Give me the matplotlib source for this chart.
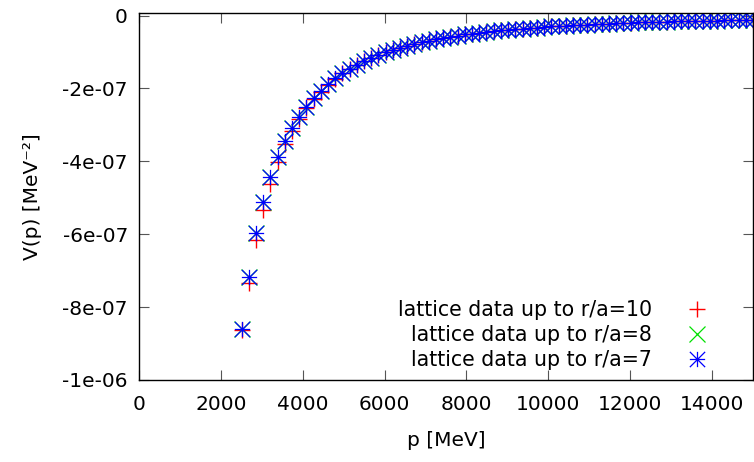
import numpy as np
import matplotlib
matplotlib.use('Agg')
import matplotlib.pyplot as plt
from matplotlib.path import Path

# momenta [MeV]
p = [2505, 2681, 2857, 3033, 3209, 3385, 3561, 3737, 3913, 4089,
     4265, 4441, 4617, 4793, 4969, 5145, 5321, 5497, 5673, 5849,
     6025, 6201, 6377, 6553, 6729, 6905, 7081, 7257, 7433, 7609,
     7785, 7961, 8137, 8313, 8489, 8665, 8841, 9017, 9193, 9369,
     9545, 9721, 9897, 10073, 10249, 10425, 10601, 10777, 10953, 11129,
     11305, 11481, 11657, 11833, 12009, 12185, 12361, 12537, 12713, 12889,
     13065, 13241, 13417, 13593, 13769, 13945, 14121, 14297, 14473, 14649,
     14825, 15001]

# V(p) in units of -1e-7 MeV^-2
v_r10 = [8.63, 7.35, 6.16, 5.34, 4.62, 4.03, 3.53, 3.16, 2.83, 2.54,
         2.30, 2.09, 1.90, 1.74, 1.59, 1.47, 1.36, 1.26, 1.17, 1.08,
         1.01, 0.94, 0.88, 0.83, 0.78, 0.73, 0.69, 0.65, 0.61, 0.58,
         0.55, 0.52, 0.50, 0.47, 0.45, 0.43, 0.41, 0.39, 0.37, 0.36,
         0.34, 0.33, 0.31, 0.30, 0.29, 0.28, 0.27, 0.26, 0.25, 0.24,
         0.23, 0.22, 0.21, 0.21, 0.20, 0.19, 0.19, 0.18, 0.17, 0.17,
         0.16, 0.16, 0.15, 0.15, 0.14, 0.14, 0.14, 0.13, 0.13, 0.12,
         0.12, 0.12]
v_r8 = [8.60, 7.18, 5.96, 5.11, 4.44, 3.89, 3.43, 3.09, 2.78, 2.50,
        2.27, 2.07, 1.88, 1.72, 1.58, 1.46, 1.35, 1.25, 1.16, 1.08,
        1.01, 0.94, 0.88, 0.83, 0.78, 0.73, 0.69, 0.65, 0.61, 0.58,
        0.55, 0.52, 0.50, 0.47, 0.45, 0.43, 0.41, 0.39, 0.37, 0.36,
        0.34, 0.33, 0.31, 0.30, 0.29, 0.28, 0.27, 0.26, 0.25, 0.24,
        0.23, 0.22, 0.21, 0.21, 0.20, 0.19, 0.19, 0.18, 0.17, 0.17,
        0.16, 0.16, 0.15, 0.15, 0.14, 0.14, 0.14, 0.13, 0.13, 0.12,
        0.12, 0.12]
v_r7 = [8.60, 7.18, 5.96, 5.11, 4.44, 3.89, 3.43, 3.09, 2.78, 2.50,
        2.27, 2.07, 1.88, 1.72, 1.58, 1.46, 1.35, 1.25, 1.16, 1.08,
        1.01, 0.94, 0.88, 0.83, 0.78, 0.73, 0.69, 0.65, 0.61, 0.58,
        0.55, 0.52, 0.50, 0.47, 0.45, 0.43, 0.41, 0.39, 0.37, 0.36,
        0.34, 0.33, 0.31, 0.30, 0.29, 0.28, 0.27, 0.26, 0.25, 0.24,
        0.23, 0.22, 0.21, 0.21, 0.20, 0.19, 0.19, 0.18, 0.17, 0.17,
        0.16, 0.16, 0.15, 0.15, 0.14, 0.14, 0.14, 0.13, 0.13, 0.12,
        0.12, 0.12]

labels = ['lattice data up to r/a=10', 'lattice data up to r/a=8',
          'lattice data up to r/a=7']
yticks = [0, -2e-7, -4e-7, -6e-7, -8e-7, -1e-6]
ytick_labels = ['0', '-2e-07', '-4e-07', '-6e-07', '-8e-07', '-1e-06']
xticks = [0, 2000, 4000, 6000, 8000, 10000, 12000, 14000]

plt.rcParams['font.family'] = 'DejaVu Sans'
plt.rcParams['font.size'] = 14.5

# gnuplot style asterisk: + and x on top of each other
star = Path([(-1, 0), (1, 0), (0, -1), (0, 1), (-1, -1), (1, 1), (-1, 1), (1, -1)],
            [Path.MOVETO, Path.LINETO] * 4)

fig = plt.figure(figsize=(7.54, 4.62), dpi=100)
ax = fig.add_axes([139 / 754, 82 / 462, 614 / 754, 367 / 462])

ax.plot(p, -np.array(v_r10) * 1e-7, ls='none', marker='+', ms=11, mew=1.0,
        mec='#ff0000', color='#ff0000', label=labels[0])
ax.plot(p, -np.array(v_r8) * 1e-7, ls='none', marker='x', ms=11, mew=0.9,
        mec='#00e000', color='#00e000', label=labels[1])
ax.plot(p, -np.array(v_r7) * 1e-7, ls='none', marker=star, ms=11, mew=0.9,
        mfc='none', mec='#0000ff', label=labels[2])

ax.set_xlim(0, 15000)
ax.set_ylim(-1e-6, 0.0069e-6)
ax.set_xticks(xticks)
ax.set_yticks(yticks)
ax.set_yticklabels(ytick_labels)
ax.tick_params(direction='in', length=7, width=0.8, color='#555555',
               top=True, right=True)
ax.tick_params(axis='x', pad=11)
ax.tick_params(axis='y', pad=8)
for s in ax.spines.values():
    s.set_linewidth(1.0)

ax.set_xlabel('p [MeV]', labelpad=12)
ax.set_ylabel('V(p) [MeV⁻²]', labelpad=15)

leg = ax.legend(loc='lower right', bbox_to_anchor=(0.942, 0.027),
                frameon=False, markerfirst=False, handlelength=2,
                handletextpad=1.18, borderpad=0, borderaxespad=0,
                labelspacing=0.25, fontsize=14.8)
# right-align the legend texts like gnuplot
for col in leg._legend_box.get_children()[1].get_children():
    col.align = 'right'

fig.savefig('out.png', dpi=100)
